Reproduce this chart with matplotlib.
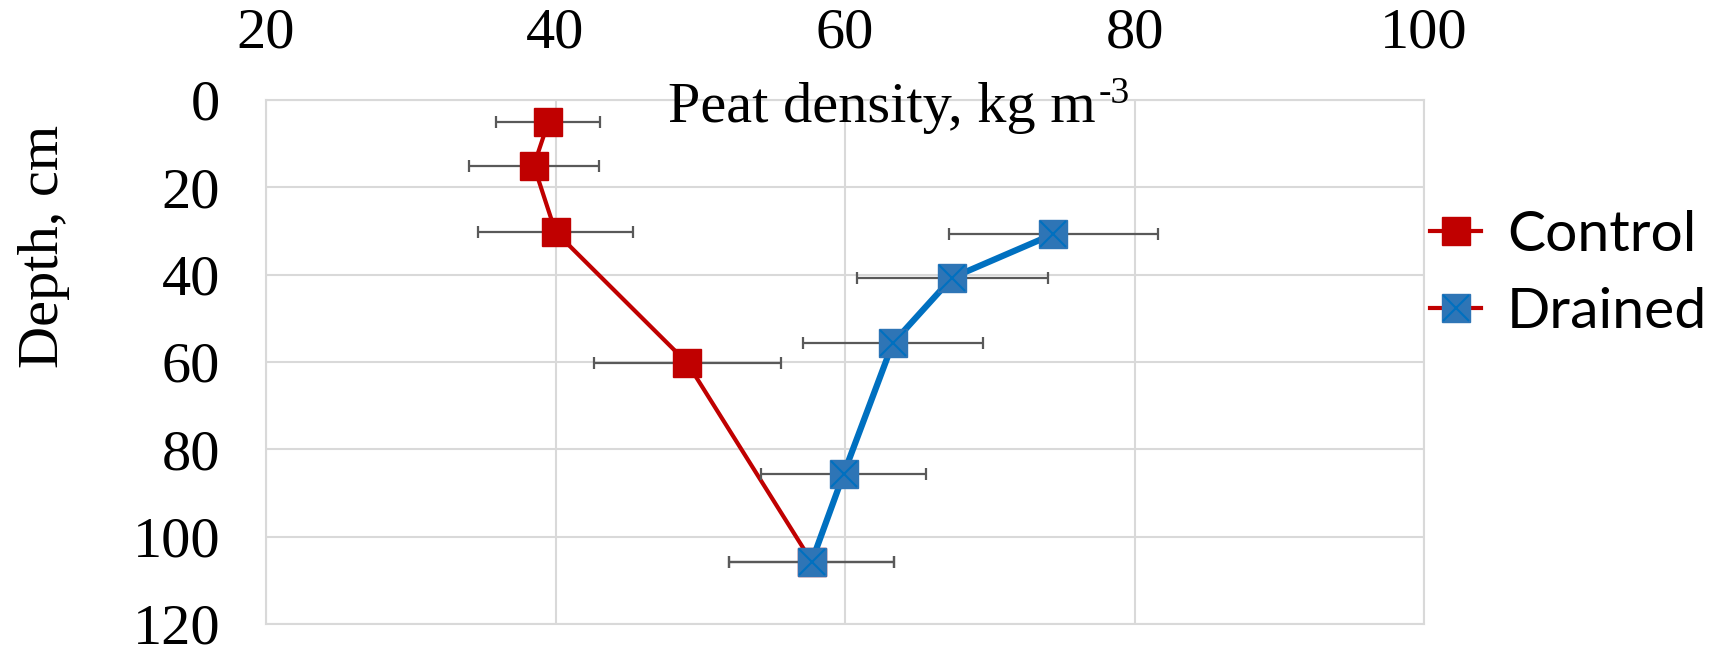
import matplotlib.pyplot as plt
from matplotlib.lines import Line2D
from matplotlib.legend_handler import HandlerTuple

# values
control_density = [39.5, 38.5, 40.0, 49.1, 57.7]
control_depth = [5.1, 15.0, 30.2, 60.2, 105.7]
control_err = [3.6, 4.5, 5.35, 6.45, 5.7]

drained_density = [74.4, 67.4, 63.3, 59.9, 57.7]
drained_depth = [30.7, 40.7, 55.7, 85.7, 105.7]
drained_err = [7.2, 6.6, 6.2, 5.7, 5.7]

x_ticks = [20, 40, 60, 80, 100]
y_ticks = [0, 20, 40, 60, 80, 100, 120]

red = '#C00000'
blue_face = '#2E75B6'
blue_line = '#0070C0'
err_col = '#595959'
grid_col = '#D9D9D9'

plt.rcParams['font.family'] = ['Liberation Serif', 'DejaVu Serif']

fig = plt.figure(figsize=(17.14, 6.47), dpi=100)
ax = fig.add_axes([266 / 1714, 1 - 624 / 647, (1424 - 266) / 1714, (624 - 100) / 647])

# control series
ax.errorbar(control_density, control_depth, xerr=control_err, fmt='none',
            ecolor=err_col, elinewidth=1.6, capsize=4.5, capthick=1.6, zorder=2)
ax.plot(control_density, control_depth, color=red, lw=3, marker='s',
        ms=20, mfc=red, mec=red, zorder=3)

# drained series
ax.errorbar(drained_density, drained_depth, xerr=drained_err, fmt='none',
            ecolor=err_col, elinewidth=1.6, capsize=4.5, capthick=1.6, zorder=4)
ax.plot(drained_density, drained_depth, color=blue_line, lw=4.5, marker='s',
        ms=20, mfc=blue_face, mec=blue_face, zorder=5)
ax.plot(drained_density, drained_depth, ls='none', marker='x', ms=19,
        mec=blue_line, mew=1.5, zorder=6)

ax.set_xlim(20, 100)
ax.set_ylim(120, 0)
ax.set_xticks(x_ticks)
ax.set_yticks(y_ticks)
ax.xaxis.tick_top()
ax.tick_params(axis='x', length=0, pad=29, labelsize=42)
ax.tick_params(axis='y', length=0, pad=33, labelsize=42)
ax.grid(True, color=grid_col, lw=1.5)
ax.set_axisbelow(True)
for s in ax.spines.values():
    s.set_color(grid_col)
    s.set_linewidth(1.5)

t = fig.text(882 / 1714, 1 - 122 / 647, 'Peat density, kg m', ha='center',
             va='baseline', fontsize=42)
ax.annotate('-3', xy=(1.0, 1 - 103 / 647), xycoords=(t, 'figure fraction'),
            xytext=(2, 0), textcoords='offset points', ha='left',
            va='baseline', fontsize=27)
fig.text(44 / 1714, 1 - 246 / 647, 'Depth, cm', ha='center', va='center',
         rotation=90, fontsize=42)

# legend (the Drained entry shows a red line in the original)
h_control = Line2D([], [], color=red, lw=3, marker='s', ms=20, mfc=red, mec=red)
h_drained = Line2D([], [], color=red, lw=3, marker='s', ms=20,
                   mfc=blue_face, mec=blue_face)
h_cross = Line2D([], [], ls='none', marker='x', ms=19, mec=blue_line, mew=1.5)
leg = fig.legend([h_control, (h_drained, h_cross)], ['Control', 'Drained'],
                 handler_map={tuple: HandlerTuple(ndivide=1)},
                 loc='center left', bbox_to_anchor=(1430 / 1714, 1 - 274 / 647),
                 frameon=False, handlelength=0.9, handletextpad=0.45,
                 labelspacing=0.45, borderaxespad=0, borderpad=0,
                 prop={'family': 'Lato', 'size': 41})

fig.savefig('out.png', dpi=100)
